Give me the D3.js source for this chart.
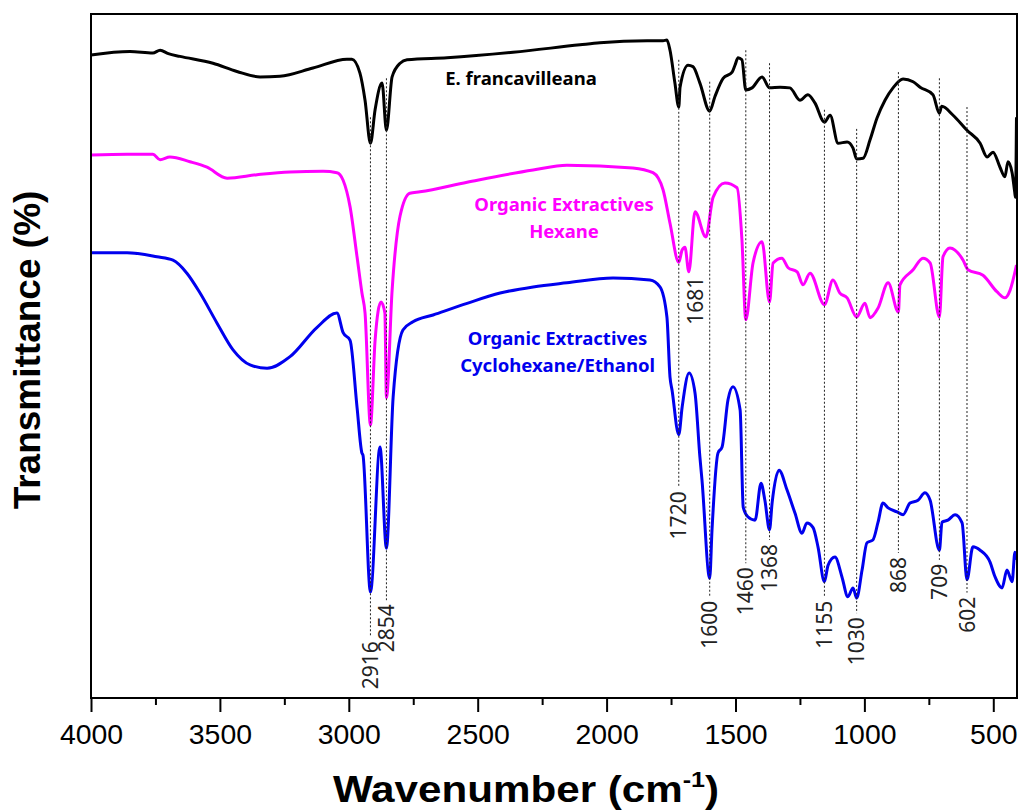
<!DOCTYPE html>
<html>
<head>
<meta charset="utf-8">
<script src="https://cdn.jsdelivr.net/npm/d3@7"></script>
<style>
  body { margin: 0; background: #fff; }
</style>
</head>
<body>
<svg width="1022" height="811"></svg>
<script>
// FTIR spectra, transmittance in arbitrary % of the plot height (traces are offset)
var xTicks = [4000, 3500, 3000, 2500, 2000, 1500, 1000, 500];
var xMinorTicks = [3750, 3250, 2750, 2250, 1750, 1250, 750];

// E. francavilleana  [wavenumber, T]
var plantSeries = [
  [4000, 94.0], [3849, 94.5], [3760, 94.3], [3732, 94.7], [3700, 94.2], [3655, 93.8],
  [3527, 92.8], [3434, 91.6], [3344, 90.8], [3267, 90.9], [3139, 92.1], [3007, 93.4],
  [2988, 93.4], [2957, 91.4], [2937, 87.4], [2916, 81.1], [2898, 86.0], [2871, 89.9],
  [2854, 83.0], [2832, 90.8], [2801, 92.8], [2774, 93.3], [2619, 93.6], [2363, 94.4],
  [2103, 95.5], [2026, 95.8], [1843, 96.1], [1781, 96.1], [1766, 96.2], [1754, 94.7],
  [1735, 89.9], [1720, 86.4], [1715, 89.3], [1684, 92.5], [1665, 92.3], [1638, 89.9],
  [1600, 85.8], [1580, 87.9], [1548, 90.6], [1513, 91.5], [1502, 92.5], [1490, 93.6],
  [1475, 93.3], [1460, 88.9], [1436, 89.2], [1397, 90.8], [1368, 89.2], [1327, 89.3],
  [1289, 89.2], [1250, 87.4], [1219, 88.2], [1192, 87.0], [1155, 84.2], [1133, 85.2],
  [1102, 81.1], [1067, 81.3], [1044, 80.4], [1030, 78.8], [1005, 78.9], [978, 81.6],
  [951, 84.8], [920, 87.4], [889, 89.2], [850, 90.5], [811, 90.1], [784, 89.3],
  [734, 88.2], [709, 85.5], [700, 86.5], [656, 85.2], [602, 83.0], [551, 81.1],
  [524, 79.1], [501, 79.8], [474, 77.6], [455, 76.2], [443, 78.4], [427, 76.8],
  [417, 74.0], [414, 73.2], [410, 84.9]
];

// Organic extractives, hexane
var hexaneSeries = [
  [4000, 79.4], [3860, 79.5], [3760, 79.5], [3732, 78.7], [3694, 79.1], [3616, 78.4],
  [3550, 77.6], [3472, 76.0], [3356, 76.5], [3228, 76.9], [3100, 77.0], [3046, 76.8],
  [3022, 75.7], [2995, 71.8], [2968, 64.5], [2949, 59.2], [2937, 56.3], [2916, 39.9],
  [2898, 52.3], [2875, 57.9], [2860, 56.3], [2854, 43.9], [2832, 59.6], [2801, 70.5],
  [2763, 73.8], [2724, 74.0], [2541, 75.4], [2285, 77.2], [2154, 77.9], [1898, 77.5],
  [1820, 76.8], [1781, 74.3], [1754, 69.4], [1720, 63.7], [1707, 65.5], [1696, 65.9],
  [1681, 62.3], [1657, 71.1], [1615, 67.4], [1587, 73.2], [1541, 75.3], [1494, 74.6],
  [1475, 67.0], [1460, 55.3], [1432, 63.6], [1397, 66.7], [1368, 57.9], [1354, 63.6],
  [1320, 64.3], [1296, 62.9], [1261, 62.3], [1238, 60.4], [1211, 62.1], [1155, 57.5],
  [1122, 61.1], [1095, 59.2], [1067, 58.5], [1030, 55.7], [998, 57.7], [978, 55.6],
  [947, 57.0], [908, 60.7], [868, 56.4], [862, 60.4], [811, 62.6], [773, 64.3],
  [745, 63.6], [709, 55.7], [695, 64.5], [668, 65.8], [617, 64.0], [598, 62.6],
  [540, 61.8], [486, 59.4], [455, 58.5], [435, 59.6], [410, 63.3]
];

// Organic extractives, cyclohexane/ethanol
var cycloSeries = [
  [4000, 65.1], [3860, 65.1], [3744, 64.5], [3682, 64.0], [3628, 62.1], [3577, 59.2],
  [3511, 54.8], [3449, 50.9], [3383, 48.7], [3317, 48.2], [3228, 49.9], [3123, 54.2],
  [3046, 56.3], [3022, 53.4], [2995, 52.3], [2968, 42.5], [2949, 35.8], [2945, 35.5],
  [2916, 15.5], [2879, 36.7], [2854, 21.9], [2828, 44.0], [2790, 53.8], [2751, 55.0],
  [2673, 56.0], [2541, 57.7], [2413, 59.2], [2285, 60.1], [2154, 60.7], [1975, 61.4],
  [1832, 61.1], [1793, 60.1], [1766, 55.7], [1754, 46.9], [1746, 45.0], [1720, 38.5],
  [1707, 42.5], [1680, 47.5], [1657, 44.6], [1638, 35.2], [1630, 31.9], [1600, 17.5],
  [1591, 24.6], [1568, 35.8], [1552, 36.7], [1529, 43.6], [1510, 45.5], [1482, 42.1],
  [1470, 27.9], [1452, 26.5], [1424, 26.0], [1401, 31.4], [1386, 28.9], [1368, 24.6],
  [1358, 28.5], [1331, 33.3], [1300, 30.4], [1269, 27.0], [1242, 24.1], [1223, 25.6],
  [1199, 24.9], [1180, 22.1], [1155, 17.0], [1141, 19.4], [1114, 20.6], [1087, 17.7],
  [1064, 14.8], [1044, 16.1], [1030, 14.6], [1009, 18.7], [990, 22.7], [967, 23.1],
  [947, 25.7], [928, 28.5], [908, 27.8], [873, 27.2], [850, 26.8], [823, 28.5],
  [792, 28.9], [765, 30.0], [745, 28.9], [709, 21.6], [699, 25.7], [676, 26.0],
  [648, 26.8], [621, 25.6], [602, 17.3], [579, 22.1], [551, 21.6], [513, 19.9],
  [493, 17.7], [466, 16.1], [447, 18.7], [427, 17.0], [416, 21.3], [410, 20.2]
];

// peak markers: wavenumber, dotted line from top to bottom (T units)
var peakWn     = [2916, 2854, 1720, 1600, 1460, 1368, 1155, 1030, 868, 709, 602];
var peakTop    = [84.9, 90.6, 93.3, 90.1, 94.7, 92.8, 86.0, 83.2, 91.5, 90.6, 86.4];
var peakBottom = [8.9, 14.3, 30.8, 14.8, 19.7, 23.1, 14.8, 12.4, 21.2, 20.2, 15.4];

var seriesNames = [
  {lines: ["E. francavilleana"], wn: 2332, t: 89.6, color: "#000"},
  {lines: ["Organic Extractives", "Hexane"], wn: 2165, t: 71.2, color: "#ff00ff"},
  {lines: ["Organic Extractives", "Cyclohexane/Ethanol"], wn: 2190, t: 51.6, color: "#0000ee"}
];

var svg = d3.select("svg"),
    margin = {top: 14, right: 5, bottom: 113, left: 91},
    width = +svg.attr("width") - margin.left - margin.right,
    height = +svg.attr("height") - margin.top - margin.bottom;

var x = d3.scaleLinear().domain([4000, 408]).range([0, width]),
    y = d3.scaleLinear().domain([0, 100]).range([height, 0]);

var g = svg.append("g")
    .attr("transform", "translate(" + margin.left + "," + margin.top + ")");

var line = d3.line()
    .x(function(d) { return x(d[0]); })
    .y(function(d) { return y(d[1]); })
    .curve(d3.curveMonotoneX);

// minor ticks, then major ticks with labels
g.append("g")
    .attr("transform", "translate(0," + height + ")")
    .call(d3.axisBottom(x).tickValues(xMinorTicks).tickSize(7).tickFormat(""))
    .call(function(a) { a.select(".domain").remove(); a.selectAll("line").attr("stroke-width", 2); });

g.append("g")
    .attr("transform", "translate(0," + height + ")")
    .call(d3.axisBottom(x).tickValues(xTicks).tickSize(14).tickPadding(12).tickFormat(d3.format("d")))
    .call(function(a) {
      a.select(".domain").remove();
      a.selectAll("line").attr("stroke-width", 2);
      a.selectAll("text").attr("font-family", "Liberation Sans, Arial, sans-serif")
        .attr("font-size", 28).attr("fill", "#000")
        .attr("textLength", function(d) { return String(d).length * 15.8; })
        .attr("lengthAdjust", "spacingAndGlyphs");
    });

// curves
[[plantSeries, "#000"], [hexaneSeries, "#ff00ff"], [cycloSeries, "#0000ee"]].forEach(function(s) {
  g.append("path")
    .datum(s[0])
    .attr("fill", "none")
    .attr("stroke", s[1])
    .attr("stroke-width", 3)
    .attr("stroke-linejoin", "round")
    .attr("d", line);
});

// frame
g.append("rect")
    .attr("width", width).attr("height", height)
    .attr("fill", "none").attr("stroke", "#000").attr("stroke-width", 2);

// dotted peak lines + labels
peakWn.forEach(function(wn, i) {
  g.append("line")
    .attr("x1", x(wn)).attr("x2", x(wn))
    .attr("y1", y(peakTop[i])).attr("y2", y(peakBottom[i]))
    .attr("stroke", "#222").attr("stroke-width", 1).attr("stroke-dasharray", "2,2");
  g.append("text")
    .attr("transform", "translate(" + x(wn) + "," + (y(peakBottom[i]) + 4) + ") rotate(-90)")
    .attr("text-anchor", "end")
    .attr("dy", "0.36em")
    .attr("font-family", "Noto Sans, sans-serif")
    .attr("font-size", 21)
    .attr("fill", "#222")
    .text(wn);
});

// 1681 has no dotted line, its label sits just right of the dip
g.append("text")
    .attr("transform", "translate(" + x(1657) + "," + y(61.6) + ") rotate(-90)")
    .attr("text-anchor", "end")
    .attr("dy", "0.36em")
    .attr("font-family", "Noto Sans, sans-serif")
    .attr("font-size", 21)
    .attr("fill", "#222")
    .text("1681");

// series names
seriesNames.forEach(function(s) {
  var t = g.append("text")
    .attr("text-anchor", "middle")
    .attr("font-family", "Noto Sans, sans-serif")
    .attr("font-weight", "bold")
    .attr("font-size", 18.5)
    .attr("fill", s.color);
  s.lines.forEach(function(l, k) {
    t.append("tspan").attr("x", x(s.wn)).attr("y", y(s.t) + k * 27).text(l);
  });
});

// axis titles
var xt = svg.append("text")
    .attr("transform", "translate(526,802) scale(1.14,1)")
    .attr("text-anchor", "middle")
    .attr("font-family", "Liberation Sans, Arial, sans-serif")
    .attr("font-weight", "bold").attr("font-size", 37);
xt.append("tspan").text("Wavenumber (cm");
xt.append("tspan").attr("font-size", 22).attr("dy", -15).text("-1");
xt.append("tspan").attr("dy", 15).text(")");

svg.append("text")
    .attr("transform", "translate(40,350) rotate(-90)")
    .attr("text-anchor", "middle")
    .attr("font-family", "Liberation Sans, Arial, sans-serif")
    .attr("font-weight", "bold").attr("font-size", 37)
    .text("Transmittance (%)");
</script>
</body>
</html>
